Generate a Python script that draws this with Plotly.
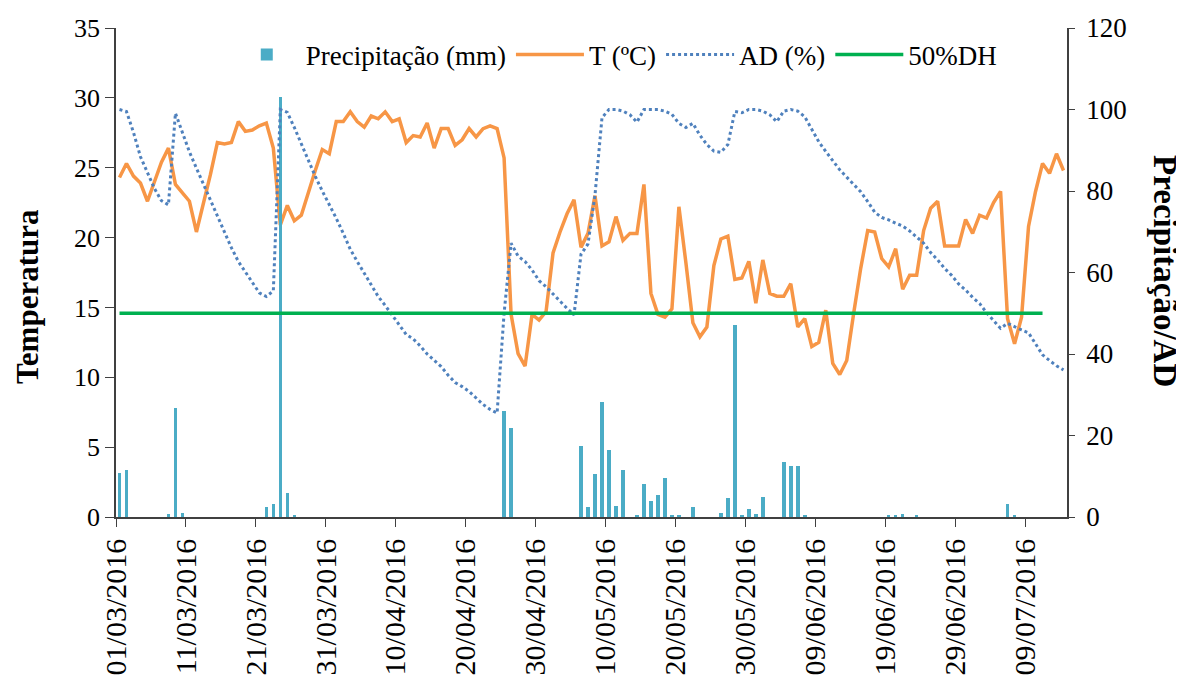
import pandas as pd
import plotly.graph_objects as go

# daily series, 01/03/2016 .. 14/07/2016
start_date = '2016-03-01'
temp_c = [24.3, 25.3, 24.4, 23.9, 22.6, 24.0, 25.4, 26.4, 23.8, 23.2,
          22.6, 20.4, 22.4, 24.5, 26.8, 26.7, 26.8, 28.3, 27.6, 27.7,
          28.0, 28.2, 26.4, 20.9, 22.3, 21.2, 21.6, 23.3, 24.8, 26.3,
          26.0, 28.3, 28.3, 29.0, 28.3, 27.9, 28.7, 28.5, 29.0, 28.3,
          28.5, 26.8, 27.3, 27.2, 28.2, 26.4, 27.8, 27.8, 26.6, 27.0,
          27.8, 27.2, 27.8, 28.0, 27.8, 25.7, 14.5, 11.7, 10.8, 14.5,
          14.1, 14.7, 18.9, 20.4, 21.7, 22.7, 19.3, 20.3, 23.0, 19.4,
          19.7, 21.5, 19.8, 20.3, 20.3, 23.8, 16.0, 14.5, 14.3, 14.9,
          22.2, 18.2, 13.9, 12.9, 13.6, 18.0, 19.9, 20.1, 17.0, 17.1,
          18.3, 15.3, 18.4, 16.0, 15.8, 15.8, 16.7, 13.6, 14.2, 12.2,
          12.5, 14.8, 11.0, 10.2, 11.2, 14.6, 17.8, 20.5, 20.4, 18.5,
          17.9, 19.2, 16.3, 17.3, 17.3, 20.5, 22.1, 22.6, 19.4, 19.4,
          19.4, 21.3, 20.3, 21.6, 21.4, 22.5, 23.3, 14.2, 12.4, 14.3,
          20.8, 23.3, 25.3, 24.6, 26.0, 24.8]
ad_pct = [100.0, 99.5, 94.4, 88.4, 84.5, 80.6, 77.6, 76.6, 99.1, 94.3,
          89.6, 85.6, 81.7, 77.5, 73.7, 69.8, 66.1, 62.7, 60.2, 57.6,
          55.0, 54.1, 55.5, 100.0, 99.3, 95.6, 91.5, 87.4, 83.6, 80.0,
          76.7, 73.3, 69.6, 65.7, 62.7, 59.8, 56.7, 54.1, 51.9, 49.5,
          47.1, 44.8, 43.7, 42.0, 40.0, 38.5, 36.9, 34.8, 33.0, 32.0,
          30.8, 29.2, 27.6, 26.4, 25.5, 50.0, 67.2, 64.0, 62.7, 60.6,
          58.0, 56.5, 54.7, 53.0, 51.2, 49.6, 64.5, 67.0, 79.0, 98.0,
          100.0, 100.0, 99.6, 98.7, 96.9, 100.0, 100.0, 100.0, 99.6, 98.8,
          96.6, 95.6, 96.6, 93.7, 91.4, 89.8, 89.5, 91.4, 99.5, 99.2,
          100.0, 100.0, 99.6, 98.7, 97.0, 99.6, 100.0, 99.6, 98.2, 95.0,
          92.1, 89.7, 87.4, 85.2, 83.4, 81.7, 79.8, 77.4, 74.8, 73.5,
          72.9, 72.1, 71.4, 70.2, 68.8, 67.2, 64.9, 63.1, 61.0, 59.3,
          57.2, 55.7, 53.9, 52.4, 50.1, 48.3, 46.3, 47.5, 46.6, 45.9,
          45.2, 42.6, 39.8, 38.4, 37.1, 36.1]
dh50 = [50] * 133

rain_dates = ['2016-03-01', '2016-03-02', '2016-03-08', '2016-03-09', '2016-03-10',
              '2016-03-22', '2016-03-23', '2016-03-24', '2016-03-25', '2016-03-26',
              '2016-04-25', '2016-04-26', '2016-05-06', '2016-05-07', '2016-05-08',
              '2016-05-09', '2016-05-10', '2016-05-11', '2016-05-12', '2016-05-14',
              '2016-05-15', '2016-05-16', '2016-05-17', '2016-05-18', '2016-05-19',
              '2016-05-20', '2016-05-22', '2016-05-26', '2016-05-27', '2016-05-28',
              '2016-05-29', '2016-05-30', '2016-05-31', '2016-06-01', '2016-06-04',
              '2016-06-05', '2016-06-06', '2016-06-07', '2016-06-19', '2016-06-20',
              '2016-06-21', '2016-06-23', '2016-07-06', '2016-07-07']
rain_mm = [10.7, 11.5, 0.7, 26.8, 1.1,
           2.4, 3.2, 103.0, 6.0, 0.4,
           26.1, 21.8, 17.4, 2.4, 10.6,
           28.1, 16.4, 2.6, 11.5, 0.5,
           8.0, 3.9, 5.5, 9.5, 0.5,
           0.5, 2.4, 1.1, 4.6, 47.0,
           0.5, 2.0, 0.7, 4.8, 13.6,
           12.6, 12.6, 0.4, 0.3, 0.3,
           0.7, 0.3, 3.2, 0.4]

half_day = pd.Timedelta(hours=12)
days = pd.date_range(start_date, periods=len(temp_c), freq='D') + half_day
rain_x = pd.to_datetime(rain_dates) + half_day

serif = 'Liberation Serif'
axcol = '#404040'

fig = go.Figure()
fig.add_trace(go.Bar(x=rain_x, y=rain_mm, name='Precipitação (mm)', yaxis='y2',
                     marker=dict(color='#4BACC6', line=dict(width=0)),
                     width=0.5 * 86400000))
fig.add_trace(go.Scatter(x=days, y=temp_c, name='T (ºC)', mode='lines',
                         line=dict(color='#F79646', width=3.5)))
fig.add_trace(go.Scatter(x=days, y=ad_pct, name='AD (%)', mode='lines', yaxis='y2',
                         line=dict(color='#4F81BD', width=3, dash='dot')))
fig.add_trace(go.Scatter(x=days[:len(dh50)], y=dh50, name='50%DH', mode='lines', yaxis='y2',
                         line=dict(color='#00B050', width=3.5)))

# page body has an 8px margin, so the margins are trimmed by that much
fig.update_layout(
    width=1184, height=682,
    margin=dict(l=108, r=125, t=20, b=173),
    plot_bgcolor='white', paper_bgcolor='white',
    font=dict(family=serif, size=26, color='black'),
    bargap=0,
    showlegend=True,
    legend=dict(orientation='h', x=0.525, xanchor='center', y=0.945, yanchor='middle',
                font=dict(family=serif, size=27), itemwidth=68,
                bgcolor='rgba(0,0,0,0)', traceorder='normal'),
    xaxis=dict(type='date', range=['2016-03-01', '2016-07-15'], automargin=False,
               tick0='2016-03-01', dtick=10 * 86400000, tickformat='%d/%m/%Y',
               tickangle=-90, tickfont=dict(family=serif, size=30),
               showgrid=False, zeroline=False, showline=True, linecolor=axcol,
               linewidth=1.5, ticks='outside', ticklen=8, tickcolor=axcol),
    yaxis=dict(range=[0, 35], dtick=5, showgrid=False, zeroline=False, automargin=False,
               showline=True, linecolor=axcol, linewidth=1.5,
               ticks='outside', ticklen=9, tickcolor=axcol,
               tickfont=dict(size=26)),
    yaxis2=dict(range=[0, 120], dtick=20, overlaying='y', side='right', automargin=False,
                showgrid=False, zeroline=False, showline=True, linecolor=axcol,
                linewidth=1.5, ticks='outside', ticklen=6, tickcolor=axcol,
                ticklabelstandoff=6, tickfont=dict(size=27)),
)

fig.add_annotation(text='<b>Temperatura</b>', xref='paper', yref='paper',
                   x=-0.0925, y=0.45, xanchor='center', yanchor='middle',
                   textangle=-90, showarrow=False,
                   font=dict(family=serif, size=31))
fig.add_annotation(text='<b>Precipitação/AD</b>', xref='paper', yref='paper',
                   x=1.103, y=0.503, xanchor='center', yanchor='middle',
                   textangle=90, showarrow=False,
                   font=dict(family=serif, size=33))

fig.write_html('out.html')
